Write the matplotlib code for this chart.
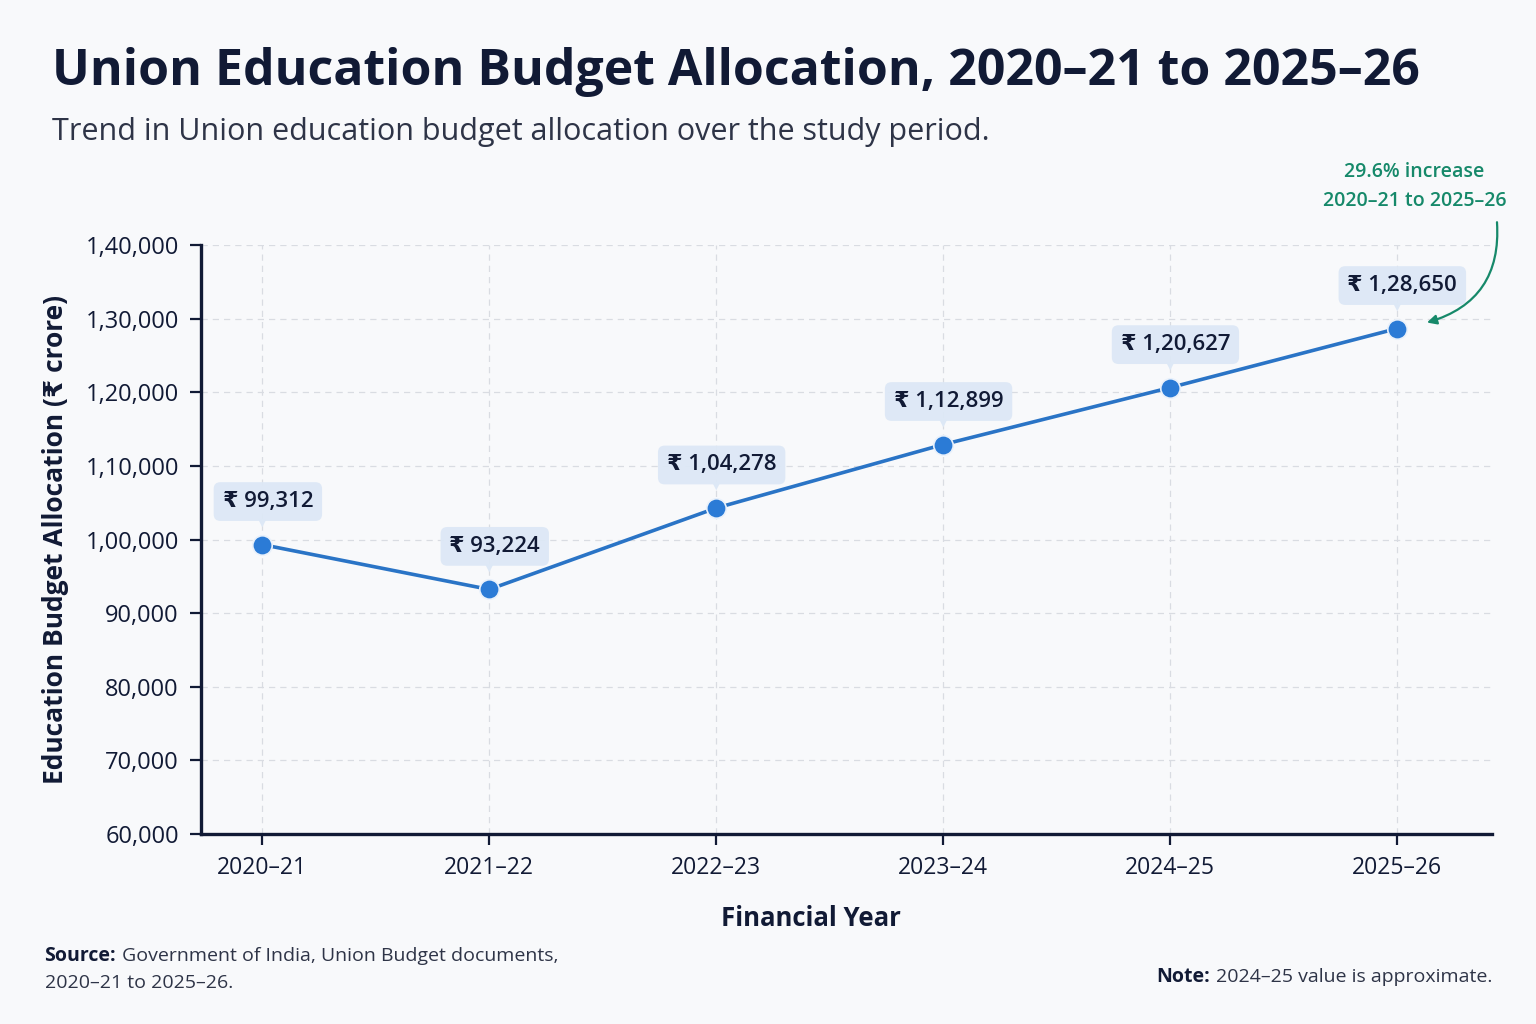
import matplotlib.pyplot as plt

plt.rcParams['font.family'] = ['Open Sans', 'DejaVu Sans']

years = ["2020–21", "2021–22", "2022–23", "2023–24", "2024–25", "2025–26"]
allocation = [99312, 93224, 104278, 112899, 120627, 128650]
value_labels = ["₹ 99,312", "₹ 93,224", "₹ 1,04,278", "₹ 1,12,899", "₹ 1,20,627", "₹ 1,28,650"]
y_ticks = [60000, 70000, 80000, 90000, 100000, 110000, 120000, 130000, 140000]
y_tick_labels = ["60,000", "70,000", "80,000", "90,000", "1,00,000",
                 "1,10,000", "1,20,000", "1,30,000", "1,40,000"]

navy = "#111a35"
blue = "#2a74c6"
green = "#16896a"
grey_text = "#2e3447"
bg = "#f8f9fb"

fig = plt.figure(figsize=(15.36, 10.24), dpi=100, facecolor=bg)
ax = fig.add_axes([0.1309, 0.1855, 0.8405, 0.5752], facecolor=bg)

x = list(range(len(years)))
ax.plot(x, allocation, color=blue, lw=2.6, zorder=3,
        marker='o', markersize=14, markerfacecolor="#2b7bd6",
        markeredgecolor="#e9f1fb", markeredgewidth=1.2)

for xi, yi, lab in zip(x, allocation, value_labels):
    ax.annotate(lab, (xi, yi), xytext=(4, 31), textcoords='offset points',
                ha='center', va='center', fontsize=16, fontweight='semibold',
                color=navy, zorder=5,
                bbox=dict(boxstyle='round,pad=0.4,rounding_size=0.3',
                          fc="#dde8f6", ec='none', alpha=0.95))
    ax.annotate("▼", (xi, yi), xytext=(0, 16), textcoords='offset points',
                ha='center', va='center', fontsize=8, color="#dde8f6",
                family=['DejaVu Sans'], zorder=4)

ax.set_xlim(-0.27, 5.42)
ax.set_ylim(60000, 140000)
ax.set_xticks(x)
ax.set_xticklabels(years, fontsize=16.5, color=navy)
ax.set_yticks(y_ticks)
ax.set_yticklabels(y_tick_labels, fontsize=17, color=navy)
ax.tick_params(axis='both', direction='out', length=8, width=1.6, color=navy, pad=8)

ax.grid(True, color="#d9dce2", linestyle=(0, (5, 4)), lw=0.9)
ax.set_axisbelow(True)
for s in ['top', 'right']:
    ax.spines[s].set_visible(False)
for s in ['left', 'bottom']:
    ax.spines[s].set_color(navy)
    ax.spines[s].set_linewidth(2.4)

ax.set_xlabel("Financial Year", fontsize=18.5, fontweight='bold', color=navy)
ax.xaxis.set_label_coords(0.4725, -0.12)
ax.set_ylabel("Education Budget Allocation (₹ crore)", fontsize=19, fontweight='bold',
              color=navy, labelpad=12)

fig.text(0.034, 0.93, "Union Education Budget Allocation, 2020–21 to 2025–26",
         fontsize=36, fontweight='bold', color=navy, va='center', ha='left')
fig.text(0.034, 0.871, "Trend in Union education budget allocation over the study period.",
         fontsize=22, color=grey_text, va='center', ha='left')

# green callout
fig.text(0.921, 0.818, "29.6% increase\n2020–21 to 2025–26", ha='center', va='center',
         fontsize=14, fontweight='semibold', color=green, linespacing=1.6)
ax.annotate("", xy=(0.929, 0.685), xycoords='figure fraction',
            xytext=(0.9746, 0.783), textcoords='figure fraction',
            arrowprops=dict(arrowstyle='-|>', color=green, lw=1.6,
                            mutation_scale=14,
                            connectionstyle='arc3,rad=-0.4',
                            shrinkA=0, shrinkB=0))

# footer
fig.canvas.draw()
r = fig.canvas.get_renderer()
t1 = fig.text(0.029, 0.066, "Source:", fontsize=14, fontweight='bold', color=navy, va='center')
w1 = t1.get_window_extent(r).width / fig.bbox.width
fig.text(0.029 + w1 + 0.004, 0.066, "Government of India, Union Budget documents,",
         fontsize=14, color=grey_text, va='center')
fig.text(0.029, 0.040, "2020–21 to 2025–26.", fontsize=14, color=grey_text, va='center')
t2 = fig.text(0.9714, 0.046, "2024–25 value is approximate.", fontsize=14,
              color=grey_text, va='center', ha='right')
w2 = t2.get_window_extent(r).width / fig.bbox.width
fig.text(0.9714 - w2 - 0.004, 0.046, "Note:", fontsize=14, fontweight='bold', color=navy,
         va='center', ha='right')

fig.savefig("out.png", dpi=100, facecolor=bg)
